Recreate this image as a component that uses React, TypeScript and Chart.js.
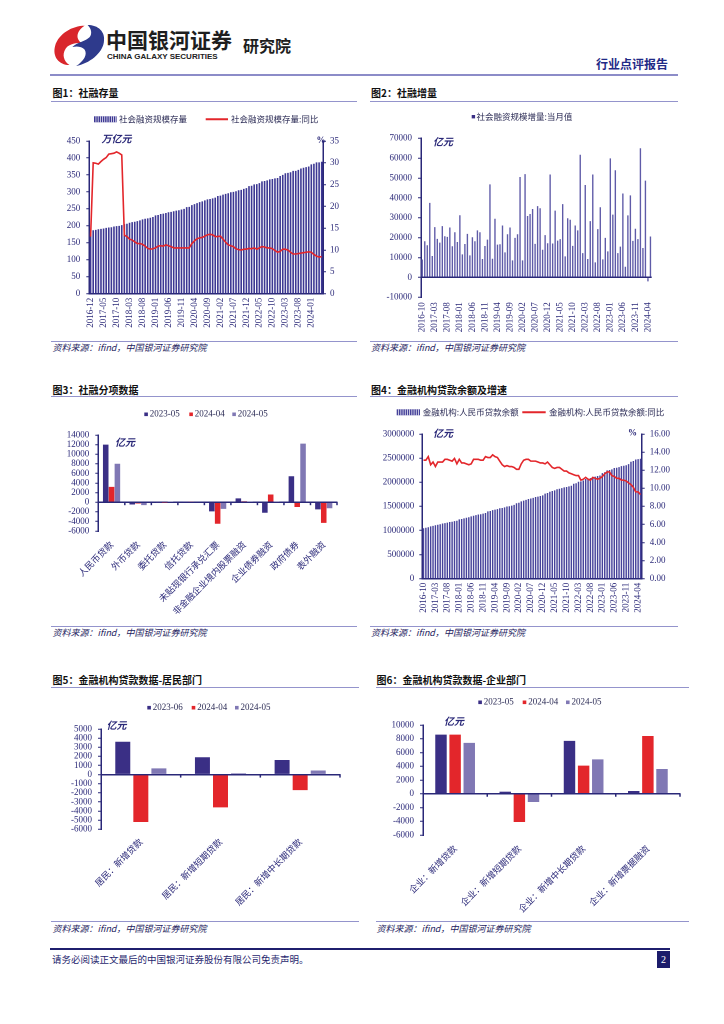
import React, { useEffect, useRef } from 'react';
import { Chart, registerables } from 'chart.js';

Chart.register(...registerables);

// ---------------- palette / fonts ----------------
const NAVY = '#2a2878';
const RED = '#e3262b';
const DARK = '#3a2f85';
const LIGHT = '#8078b4';
const BARNAVY = '#3d3893';
const FLOWBAR = '#5f5ba8';
const SERIF = "'Liberation Serif','Times New Roman',serif";
const CJK = "'Noto Sans CJK SC','Noto Sans',sans-serif";

// ---------------- data ----------------
function monthSeq(y: number, m: number, n: number): string[] {
  const out: string[] = [];
  for (let i = 0; i < n; i++) {
    const mm = m - 1 + i;
    out.push(`${y + Math.floor(mm / 12)}-${String((mm % 12) + 1).padStart(2, '0')}`);
  }
  return out;
}

// Fig.1 social financing stock (万亿元) & yoy (%) 2016-12 .. 2024-05
const stockMonths = monthSeq(2016, 12, 90);
const stockLabel = '社会融资规模存量';
const stockYoYLabel = '社会融资规模存量:同比';
const tsfStock = [
  184, 187, 188, 190, 191, 192, 194, 195, 196, 198, 199, 200, 202,
  205, 206, 209, 211, 212, 214, 216, 219, 221, 222, 224, 226,
  231, 232, 235, 236, 238, 240, 241, 243, 245, 246, 248, 250,
  255, 256, 261, 264, 267, 270, 272, 275, 278, 279, 281, 283,
  288, 289, 292, 294, 296, 299, 300, 302, 305, 306, 309, 311,
  317, 318, 322, 323, 326, 331, 332, 334, 337, 338, 340, 341,
  347, 350, 355, 356, 358, 362, 362, 365, 369, 371, 373, 375,
  381, 383, 387, 387, 389,
];
const tsfStockYoY = [
  13.1, 30.0, 29.9, 29.7, 30.3, 30.8, 31.2, 32.0, 32.1, 32.2, 32.5, 32.2, 31.8,
  13.4, 13.1, 12.5, 12.3, 11.9, 11.5, 11.5, 11.3, 10.9, 10.4, 10.2, 10.3,
  10.5, 10.9, 11.0, 10.9, 11.2, 11.0, 10.8, 10.5, 10.5, 10.5, 10.5, 10.5,
  10.5, 10.5, 11.5, 12.1, 12.6, 12.8, 12.9, 13.2, 13.5, 13.6, 13.5, 13.1,
  13.1, 13.2, 12.5, 11.8, 11.2, 11.0, 10.8, 10.3, 10.1, 10.0, 10.2, 10.2,
  10.4, 10.3, 10.5, 10.2, 10.5, 10.8, 10.7, 10.5, 10.5, 10.3, 9.9, 9.5,
  9.7, 10.2, 10.2, 10.0, 9.5, 9.1, 9.1, 9.2, 9.3, 9.4, 9.5, 9.6,
  9.5, 9.0, 8.6, 8.4, 8.5,
];

// Fig.2 monthly social financing flow (亿元) 2016-10 .. 2024-05
const flowMonths = monthSeq(2016, 10, 92);
const flowLabel = '社会融资规模增量:当月值';
const tsfFlow = [
  9000, 18200, 16200,
  37500, 10800, 25300, 19400, 17500, 25800, 20700, 20400, 25100, 15700, 22700, 17800,
  31300, 11600, 16800, 21900, 11100, 20200, 18200, 23700, 22700, 9300, 15800, 19000,
  46800, 9400, 29500, 16500, 16700, 26100, 12600, 21700, 25100, 8600, 19900, 21700,
  50500, 8600, 52000, 30900, 31900, 34400, 16900, 35900, 34800, 13900, 21300, 17200,
  51800, 17100, 33600, 18500, 19300, 36900, 10600, 29800, 29000, 15900, 26100, 23700,
  61700, 12200, 46500, 9300, 28300, 51800, 7600, 24300, 35300, 9100, 19900, 13100,
  59900, 31600, 53900, 12200, 15500, 42200, 5400, 31200, 41300, 18400, 24500, 19300,
  65000, 14800, 48700, -1990, 20600,
];

// Fig.3 social financing components (亿元)
const itemCats = ['人民币贷款', '外币贷款', '委托贷款', '信托贷款', '未贴现银行承兑汇票', '非金融企业境内股票融资', '企业债券融资', '政府债券', '表外融资'];
const itemSeriesNames = ['2023-05', '2024-04', '2024-05'];
const item2305 = [12000, -480, -60, 100, -1900, 800, -2200, 5400, -1500];
const item2404 = [3200, -280, -100, 120, -4500, 200, 1600, -1000, -4300];
const item2405 = [8000, -600, 60, 150, -1400, 100, 100, 12200, -1250];

// Fig.4 RMB loan balance (亿元) & yoy (%) 2016-10 .. 2024-05
const loanMonths = monthSeq(2016, 10, 92);
const loanLabel = '金融机构:人民币贷款余额';
const loanYoYLabel = '金融机构:人民币贷款余额:同比';
const loanBalance = [
  1045000, 1057000, 1066000,
  1086000, 1096000, 1107000, 1118000, 1129000, 1144000, 1152000, 1163000, 1176000, 1182000, 1193000, 1201000,
  1230000, 1239000, 1251000, 1263000, 1274000, 1293000, 1304000, 1317000, 1330000, 1337000, 1350000, 1363000,
  1395000, 1404000, 1421000, 1431000, 1443000, 1460000, 1467000, 1479000, 1496000, 1502000, 1516000, 1531000,
  1565000, 1574000, 1602000, 1619000, 1634000, 1652000, 1662000, 1675000, 1694000, 1701000, 1715000, 1727000,
  1763000, 1776000, 1803000, 1817000, 1832000, 1854000, 1864000, 1877000, 1893000, 1901000, 1914000, 1927000,
  1968000, 1980000, 2011000, 2017000, 2036000, 2066000, 2073000, 2086000, 2111000, 2117000, 2129000, 2140000,
  2189000, 2207000, 2246000, 2253000, 2266000, 2296000, 2299000, 2312000, 2335000, 2342000, 2353000, 2376000,
  2425000, 2440000, 2471000, 2478000, 2487000,
];
const loanYoY = [
  13.1, 13.1, 13.5,
  12.6, 12.9, 12.4, 12.9, 12.9, 12.9, 13.2, 13.2, 13.1, 13.0, 13.3, 12.7,
  13.2, 12.8, 12.8, 12.7, 12.6, 12.7, 13.2, 13.2, 13.2, 13.1, 13.1, 13.5,
  13.4, 13.4, 13.7, 13.5, 13.4, 13.0, 12.6, 12.4, 12.5, 12.4, 12.4, 12.3,
  12.1, 12.1, 12.7, 13.1, 13.2, 13.2, 13.0, 13.0, 13.0, 12.9, 12.8, 12.8,
  12.7, 12.9, 12.6, 12.3, 12.2, 12.3, 12.3, 12.1, 11.9, 11.9, 11.7, 11.6,
  11.5, 11.4, 11.4, 10.9, 11.0, 11.2, 11.0, 10.9, 11.2, 11.1, 11.0, 11.1,
  11.3, 11.6, 11.8, 11.8, 11.4, 11.3, 11.1, 11.1, 10.9, 10.9, 10.8, 10.6,
  10.4, 10.1, 9.6, 9.6, 9.3,
];

// Fig.5 household loans (亿元)
const hhCats = ['居民：新增贷款', '居民：新增短期贷款', '居民：新增中长期贷款'];
const hhSeriesNames = ['2023-06', '2024-04', '2024-05'];
const hhA = [3600, 1900, 1600];
const hhB = [-5200, -3600, -1700];
const hhC = [680, 150, 450];

// Fig.6 corporate loans (亿元)
const corpCats = ['企业：新增贷款', '企业：新增短期贷款', '企业：新增中长期贷款', '企业：新增票据融资'];
const corpSeriesNames = ['2023-05', '2024-04', '2024-05'];
const corpA = [8600, 300, 7700, 400];
const corpB = [8600, -4100, 4100, 8400];
const corpC = [7400, -1200, 5000, 3600];

// ---------------- helpers ----------------
type Rect = { x: number; y: number; w: number; h: number };
type Plot = { l: number; t: number; r: number; b: number };
type Item =
  | { k: 'text'; x: number; y: number; text: string; font: string; color: string }
  | { k: 'box'; x: number; y: number; s: number; color: string }
  | { k: 'stripe'; x: number; y: number; w: number; h: number; color: string }
  | { k: 'line'; x: number; y: number; w: number; color: string };

function geom(c: Rect, p: Plot) {
  return { top: p.t - c.y, wL: p.l - c.x, wR: c.x + c.w - p.r, hB: c.y + c.h - p.b };
}

function annot(origin: Rect, items: Item[], zeroTicks = false) {
  return {
    id: 'annot',
    afterDraw(chart: any) {
      const ctx = chart.ctx as CanvasRenderingContext2D;
      ctx.save();
      if (zeroTicks) {
        const xs = chart.scales.x;
        const ys = chart.scales.y;
        const y0 = ys.getPixelForValue(0);
        const n = xs.getLabels().length;
        ctx.strokeStyle = NAVY;
        ctx.lineWidth = 1.5;
        for (let i = 1; i <= n; i++) {
          const x = xs.left + (xs.width * i) / n;
          ctx.beginPath();
          ctx.moveTo(x, y0 - 0.5);
          ctx.lineTo(x, y0 + 3);
          ctx.stroke();
        }
      }
      for (const it of items) {
        const x = it.x - origin.x;
        const y = it.y - origin.y;
        if (it.k === 'text') {
          ctx.font = it.font;
          ctx.fillStyle = it.color;
          ctx.textAlign = 'left';
          ctx.textBaseline = 'middle';
          ctx.fillText(it.text, x, y);
        } else if (it.k === 'box') {
          ctx.fillStyle = it.color;
          ctx.fillRect(x, y - it.s / 2, it.s, it.s);
        } else if (it.k === 'stripe') {
          ctx.fillStyle = it.color;
          ctx.fillRect(x, y - it.h / 2, it.w, it.h);
          ctx.fillStyle = '#ffffff';
          for (let sx = x + 1.6; sx < x + it.w; sx += 2.2) ctx.fillRect(sx, y - it.h / 2, 0.7, it.h);
        } else if (it.k === 'line') {
          ctx.strokeStyle = it.color;
          ctx.lineWidth = 2;
          ctx.beginPath();
          ctx.moveTo(x, y);
          ctx.lineTo(x + it.w, y);
          ctx.stroke();
        }
      }
      ctx.restore();
    },
  };
}

const legendFont = `8.5px ${CJK}`;
const legendNumFont = `9px ${SERIF}`;
const unitFont = `italic bold 10px ${CJK}`;
const LEG_TEXT = '#2b2b55';

function yAxis(o: {
  min: number; max: number; step: number; width: number; position?: 'left' | 'right';
  fmt?: (v: number) => string; zero?: boolean; pad?: number;
}) {
  return {
    type: 'linear',
    position: o.position || 'left',
    min: o.min,
    max: o.max,
    afterFit: (s: any) => { s.width = o.width; },
    ticks: {
      stepSize: o.step,
      autoSkip: false,
      color: NAVY,
      padding: o.pad ?? 5,
      font: { family: SERIF, size: 9, lineHeight: 1 },
      callback: o.fmt ? (v: any) => o.fmt!(Number(v)) : (v: any) => String(v),
    },
    border: { display: true, color: NAVY, width: 1.5 },
    grid: {
      drawOnChartArea: !!o.zero,
      color: (c: any) => (c.tick && c.tick.value === 0 ? NAVY : 'rgba(0,0,0,0)'),
      lineWidth: 1.5,
      tickLength: 3,
      tickColor: NAVY,
      tickWidth: 1,
    },
  };
}

function xMonths(height: number, pad: number, border: boolean) {
  return {
    type: 'category',
    offset: true,
    afterFit: (s: any) => { s.height = height; },
    grid: { display: false, drawTicks: false },
    border: { display: border, color: NAVY, width: 1.5 },
    ticks: {
      autoSkip: false,
      maxRotation: 90,
      minRotation: 90,
      padding: pad,
      color: NAVY,
      font: { family: SERIF, size: 9 },
      callback(this: any, v: any, i: number) {
        return i % 5 === 0 ? this.getLabelForValue(v) : '';
      },
    },
  };
}

function xCats(height: number, pad: number) {
  return {
    type: 'category',
    offset: true,
    afterFit: (s: any) => { s.height = height; },
    grid: { display: false, drawTicks: false },
    border: { display: false },
    ticks: {
      autoSkip: false,
      maxRotation: 45,
      minRotation: 45,
      padding: pad,
      color: NAVY,
      font: { family: CJK, size: 9 },
    },
  };
}

const baseOpts = {
  responsive: false,
  animation: false,
  devicePixelRatio: 2,
  events: [],
};

// ---------------- chart configs ----------------
const R1: Rect = { x: 50, y: 104, w: 310, h: 236 };
const P1: Plot = { l: 89.3, t: 141, r: 323, b: 293.7 };
function cfg1() {
  const g = geom(R1, P1);
  return {
    type: 'bar',
    data: {
      labels: stockMonths,
      datasets: [
        { type: 'line', label: stockYoYLabel, data: tsfStockYoY, yAxisID: 'y1', borderColor: RED, borderWidth: 1.6, pointRadius: 0, order: 0 },
        { type: 'bar', label: stockLabel, data: tsfStock, yAxisID: 'y', backgroundColor: BARNAVY, barPercentage: 0.62, categoryPercentage: 1, order: 1 },
      ],
    },
    options: {
      ...baseOpts,
      layout: { padding: { top: g.top, left: 0, right: 0, bottom: 0 } },
      plugins: { legend: { display: false }, tooltip: { enabled: false } },
      scales: {
        x: xMonths(g.hB, 4, true),
        y: yAxis({ min: 0, max: 450, step: 50, width: g.wL, pad: 6 }),
        y1: yAxis({ min: 0, max: 35, step: 5, width: g.wR, position: 'right', pad: 4 }),
      },
    },
    plugins: [annot(R1, [
      { k: 'stripe', x: 94, y: 119.3, w: 22.7, h: 6, color: BARNAVY },
      { k: 'text', x: 119, y: 119.3, text: stockLabel, font: legendFont, color: LEG_TEXT },
      { k: 'line', x: 205.7, y: 119.3, w: 22.3, color: RED },
      { k: 'text', x: 231, y: 119.3, text: stockYoYLabel, font: legendFont, color: LEG_TEXT },
      { k: 'text', x: 101.5, y: 138.5, text: '万亿元', font: unitFont, color: NAVY },
      { k: 'text', x: 316.5, y: 140.5, text: '%', font: `bold 9px ${SERIF}`, color: NAVY },
    ])],
  };
}

const R2: Rect = { x: 368, y: 104, w: 312, h: 236 };
const P2: Plot = { l: 421, t: 138.3, r: 651.7, b: 297.3 };
function cfg2() {
  const g = geom(R2, P2);
  return {
    type: 'bar',
    data: {
      labels: flowMonths,
      datasets: [
        { label: flowLabel, data: tsfFlow, backgroundColor: FLOWBAR, barPercentage: 0.55, categoryPercentage: 1 },
      ],
    },
    options: {
      ...baseOpts,
      layout: { padding: { top: g.top, left: 0, right: g.wR, bottom: 0 } },
      plugins: { legend: { display: false }, tooltip: { enabled: false } },
      scales: {
        x: xMonths(g.hB, 5, false),
        y: yAxis({ min: -10000, max: 70000, step: 10000, width: g.wL, zero: true, pad: 6 }),
      },
    },
    plugins: [annot(R2, [
      { k: 'box', x: 471.7, y: 116.7, s: 3.4, color: DARK },
      { k: 'text', x: 476.5, y: 116.7, text: flowLabel, font: legendFont, color: LEG_TEXT },
      { k: 'text', x: 433, y: 141.5, text: '亿元', font: unitFont, color: NAVY },
    ])],
  };
}

function groupLegend(names: string[], xs: number[], y: number): Item[] {
  const cols = [DARK, RED, LIGHT];
  const out: Item[] = [];
  names.forEach((n, i) => {
    out.push({ k: 'box', x: xs[i], y, s: 3.6, color: cols[i] });
    out.push({ k: 'text', x: xs[i] + 5.5, y, text: n, font: legendNumFont, color: LEG_TEXT });
  });
  return out;
}

function groupConfig(rect: Rect, plot: Plot, cats: string[], names: string[], series: number[][],
  yMin: number, yMax: number, step: number, catPct: number, barPct: number, xPad: number, items: Item[]) {
  const g = geom(rect, plot);
  const cols = [DARK, RED, LIGHT];
  return {
    type: 'bar',
    data: {
      labels: cats,
      datasets: series.map((d, i) => ({
        label: names[i], data: d, backgroundColor: cols[i], borderColor: '#ffffff', borderWidth: 0,
        categoryPercentage: catPct, barPercentage: barPct,
      })),
    },
    options: {
      ...baseOpts,
      layout: { padding: { top: g.top, left: 0, right: g.wR, bottom: 0 } },
      plugins: { legend: { display: false }, tooltip: { enabled: false } },
      scales: {
        x: xCats(g.hB, xPad),
        y: yAxis({ min: yMin, max: yMax, step, width: g.wL, zero: true, pad: 6 }),
      },
    },
    plugins: [annot(rect, items, true)],
  };
}

const R3: Rect = { x: 50, y: 398, w: 310, h: 227 };
const P3: Plot = { l: 98.3, t: 435, r: 337, b: 531 };
function cfg3() {
  return groupConfig(R3, P3, itemCats, itemSeriesNames, [item2305, item2404, item2405], -6000, 14000, 2000, 0.66, 0.95, 8, [
    ...groupLegend(itemSeriesNames, [144.3, 189.3, 232.3], 414.3),
    { k: 'text', x: 115, y: 442, text: '亿元', font: unitFont, color: NAVY },
  ]);
}

const R4: Rect = { x: 368, y: 398, w: 312, h: 227 };
const P4: Plot = { l: 422.3, t: 434, r: 641.7, b: 578.7 };
function cfg4() {
  const g = geom(R4, P4);
  return {
    type: 'bar',
    data: {
      labels: loanMonths,
      datasets: [
        { type: 'line', label: loanYoYLabel, data: loanYoY, yAxisID: 'y1', borderColor: RED, borderWidth: 1.6, pointRadius: 0, order: 0 },
        { type: 'bar', label: loanLabel, data: loanBalance, yAxisID: 'y', backgroundColor: '#46429a', barPercentage: 0.6, categoryPercentage: 1, order: 1 },
      ],
    },
    options: {
      ...baseOpts,
      layout: { padding: { top: g.top, left: 0, right: 0, bottom: 0 } },
      plugins: { legend: { display: false }, tooltip: { enabled: false } },
      scales: {
        x: xMonths(g.hB, 4, true),
        y: yAxis({ min: 0, max: 3000000, step: 500000, width: g.wL, pad: 5 }),
        y1: yAxis({ min: 0, max: 16, step: 2, width: g.wR, position: 'right', pad: 5, fmt: (v) => v.toFixed(2) }),
      },
    },
    plugins: [annot(R4, [
      { k: 'stripe', x: 396.7, y: 412.3, w: 23.3, h: 6, color: '#46429a' },
      { k: 'text', x: 422.7, y: 412.3, text: loanLabel, font: legendFont, color: LEG_TEXT },
      { k: 'line', x: 522.3, y: 412.3, w: 23.4, color: RED },
      { k: 'text', x: 549, y: 412.3, text: loanYoYLabel, font: legendFont, color: LEG_TEXT },
      { k: 'text', x: 433, y: 433, text: '亿元', font: unitFont, color: NAVY },
      { k: 'text', x: 628, y: 433, text: '%', font: `bold 9px ${SERIF}`, color: NAVY },
    ])],
  };
}

const R5: Rect = { x: 50, y: 689, w: 310, h: 231 };
const P5: Plot = { l: 101, t: 729, r: 340, b: 829.3 };
function cfg5() {
  return groupConfig(R5, P5, hhCats, hhSeriesNames, [hhA, hhB, hhC], -6000, 5000, 1000, 0.68, 0.83, 7, [
    ...groupLegend(hhSeriesNames, [147.3, 191.7, 235], 707.7),
    { k: 'text', x: 106.5, y: 725, text: '亿元', font: unitFont, color: NAVY },
  ]);
}

const R6: Rect = { x: 370, y: 689, w: 320, h: 231 };
const P6: Plot = { l: 423, t: 725, r: 680, b: 835 };
function cfg6() {
  return groupConfig(R6, P6, corpCats, corpSeriesNames, [corpA, corpB, corpC], -6000, 10000, 2000, 0.66, 0.81, 8, [
    ...groupLegend(corpSeriesNames, [478.3, 522.7, 566], 702.3),
    { k: 'text', x: 444, y: 721, text: '亿元', font: unitFont, color: NAVY },
  ]);
}

// ---------------- components ----------------
function ChartCanvas({ rect, make }: { rect: Rect; make: () => any }) {
  const ref = useRef<HTMLCanvasElement>(null);
  useEffect(() => {
    const chart = new Chart(ref.current as HTMLCanvasElement, make());
    return () => chart.destroy();
  }, []);
  return (
    <canvas
      ref={ref}
      width={rect.w}
      height={rect.h}
      style={{ position: 'absolute', left: rect.x, top: rect.y, width: rect.w, height: rect.h }}
    />
  );
}

function Txt({ x, y, size, children, style }: { x: number; y: number; size: number; children: React.ReactNode; style?: React.CSSProperties }) {
  return (
    <div style={{ position: 'absolute', left: x, top: y - size * 0.6, fontSize: size, lineHeight: `${size * 1.2}px`, whiteSpace: 'nowrap', ...style }}>
      {children}
    </div>
  );
}

function HLine({ x1, x2, y, color, w = 1 }: { x1: number; x2: number; y: number; color: string; w?: number }) {
  return <div style={{ position: 'absolute', left: x1, top: y - w / 2, width: x2 - x1, height: w, background: color }} />;
}

const SEP = '#9494cc';
const titleStyle: React.CSSProperties = { fontFamily: CJK, fontWeight: 700, color: '#111' };
const srcStyle: React.CSSProperties = { fontFamily: CJK, fontStyle: 'italic', color: '#25235e' };
const SOURCE = '资料来源：ifind，中国银河证券研究院';

function Panel({ title, tx, ty, x1, x2, uy, sy, sty }: { title: string; tx: number; ty: number; x1: number; x2: number; uy: number; sy: number; sty: number }) {
  return (
    <>
      <Txt x={tx} y={ty} size={10} style={titleStyle}>{title}</Txt>
      <HLine x1={x1} x2={x2} y={uy} color={SEP} w={1} />
      <HLine x1={x1} x2={x2} y={sy} color={SEP} w={1} />
      <Txt x={tx} y={sty} size={9} style={srcStyle}>{SOURCE}</Txt>
    </>
  );
}

function Logo() {
  return (
    <svg style={{ position: 'absolute', left: 52, top: 23 }} width={54} height={44} viewBox="0 0 54 46">
      <path d="M33 3 C20 3 6 11 2 24 C-1 35 6 44 17 44 C11 40 9 33 13 27 C17 21 25 21 30 21 C24 18 23 9 33 3 Z" fill="#d9262c" />
      <path d="M36 2 C47 2 55 9 53 20 C51 32 38 42 24 45 C32 40 36 33 33 28 C30 24 24 24 20 25 C26 20 34 19 38 15 C41 11 40 6 36 2 Z" fill="#2e3a8c" />
    </svg>
  );
}

export default function App() {
  return (
    <div style={{ position: 'absolute', left: 0, top: 0, width: 724, height: 1024, background: '#fff', overflow: 'hidden' }}>
      {/* header */}
      <Logo />
      <Txt x={106} y={40} size={21} style={{ fontFamily: CJK, fontWeight: 700, color: '#1e1e1e', letterSpacing: 0 }}>中国银河证券</Txt>
      <Txt x={107} y={56.5} size={8} style={{ fontFamily: "'Liberation Sans',Arial,sans-serif", fontWeight: 700, color: '#222' }}>CHINA GALAXY SECURITIES</Txt>
      <Txt x={243} y={46} size={16} style={{ fontFamily: CJK, fontWeight: 700, color: '#1e1e1e' }}>研究院</Txt>
      <Txt x={596} y={64} size={12} style={{ fontFamily: CJK, fontWeight: 700, color: '#1f2a86' }}>行业点评报告</Txt>
      <HLine x1={50} x2={678} y={75} color="#8c8cc8" w={2} />

      {/* panels */}
      <Panel title="图1：社融存量" tx={52.5} ty={93} x1={51} x2={357} uy={101.5} sy={341.5} sty={348} />
      <Panel title="图2：社融增量" tx={371} ty={93} x1={370} x2={678} uy={101.5} sy={341.5} sty={348} />
      <Panel title="图3：社融分项数据" tx={52.5} ty={390} x1={51} x2={357} uy={396.7} sy={626} sty={633} />
      <Panel title="图4：金融机构贷款余额及增速" tx={371} ty={390} x1={370} x2={678} uy={396.7} sy={626} sty={633} />
      <Panel title="图5：金融机构贷款数据-居民部门" tx={52.5} ty={680} x1={51} x2={359} uy={687.7} sy={921} sty={929} />
      <Panel title="图6：金融机构贷款数据-企业部门" tx={376.5} ty={680} x1={376} x2={689} uy={687.7} sy={921} sty={929} />

      <ChartCanvas rect={R1} make={cfg1} />
      <ChartCanvas rect={R2} make={cfg2} />
      <ChartCanvas rect={R3} make={cfg3} />
      <ChartCanvas rect={R4} make={cfg4} />
      <ChartCanvas rect={R5} make={cfg5} />
      <ChartCanvas rect={R6} make={cfg6} />

      {/* footer */}
      <HLine x1={50} x2={670} y={949} color="#1f1f6e" w={1.5} />
      <Txt x={52} y={960} size={9.5} style={{ fontFamily: CJK, color: '#1f1f6e' }}>请务必阅读正文最后的中国银河证券股份有限公司免责声明。</Txt>
      <div style={{ position: 'absolute', left: 657, top: 951, width: 13, height: 17, background: '#1c1c6b', color: '#fff', fontFamily: SERIF, fontSize: 10, lineHeight: '17px', textAlign: 'center' }}>2</div>
    </div>
  );
}
